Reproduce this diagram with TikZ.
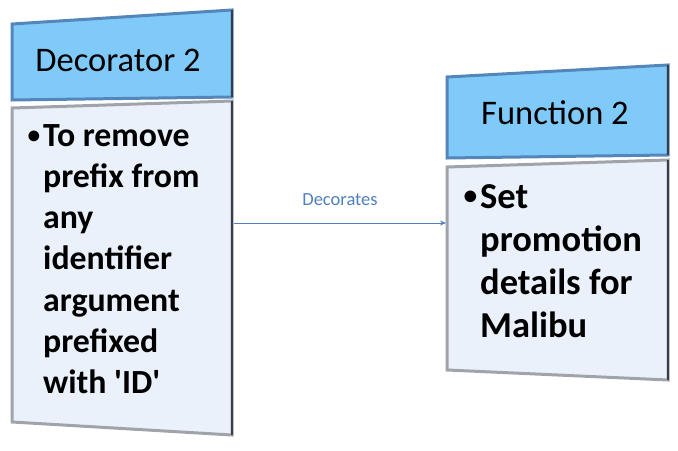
\documentclass[tikz,border=0pt]{standalone}
\usepackage{fontspec}
\setmainfont{Carlito}[Ligatures=TeXOff]
\usetikzlibrary{arrows.meta,positioning}
\definecolor{headfill}{RGB}{128,202,250}
\definecolor{headline}{RGB}{84,134,186}
\definecolor{bodyfill}{RGB}{235,241,250}
\definecolor{bodyline}{RGB}{160,164,170}
\definecolor{darkedge}{RGB}{55,62,72}
\definecolor{arrowblue}{RGB}{79,129,189}
\newcommand{\blt}{\makebox[0pt][r]{\raisebox{0.09em}{\scalebox{0.75}{\textbullet}}\hspace{3bp}}}
\tikzset{
  head/.style={fill=headfill, draw=headline, line width=3bp},
  body/.style={fill=bodyfill, draw=bodyline, line width=3bp},
  rimdark/.style={draw=darkedge, line width=2.5bp},
  headtext/.style={font=\fontsize{34.5bp}{40bp}\selectfont, inner sep=0pt, anchor=base},
  bodytext/.style={font=\bfseries, inner sep=0pt, align=left, anchor=base west}
}
\begin{document}
\begin{tikzpicture}[x=1bp,y=-1bp]
\useasboundingbox (0,0) rectangle (678,451);
% decorator box
\draw[head] (12,24) -- (232,10) -- (232,97) -- (12,100) -- cycle;
\draw[body] (12,108) -- (232,101) -- (232,435) -- (12,422) -- cycle;
\draw[rimdark] (232,10) -- (232,97) (232,101) -- (232,435);
\node[headtext] (dechead) at (118,72) {Decorator 2};
% base anchor sits on the last line
\node[bodytext, font=\fontsize{33.8bp}{41bp}\selectfont\bfseries] (dectext) at (43,393)
  {\blt To remove\\prefix from\\any\\identifier\\argument\\prefixed\\with 'ID'};
% function box
\draw[head] (447,77) -- (668,65) -- (668,155) -- (447,158) -- cycle;
\draw[body] (447,167) -- (668,160) -- (668,380) -- (447,370) -- cycle;
\draw[rimdark] (668,65) -- (668,155) (668,160) -- (668,380);
\node[headtext] (funhead) at (555,125) {Function 2};
\node[bodytext, font=\fontsize{36.5bp}{43.3bp}\selectfont\bfseries] (funtext) at (480,338)
  {\blt Set\\promotion\\details for\\Malibu};
% connector
\coordinate (decR) at (234,223);
\coordinate (funL) at (446,223);
\draw[arrowblue, line width=0.8bp, -{Stealth[length=6bp,width=5bp]}] (decR) --
  node[above=14bp, text=arrowblue, font=\fontsize{18.5bp}{22bp}\selectfont] (declabel) {Decorates} (funL);
\end{tikzpicture}
\end{document}
